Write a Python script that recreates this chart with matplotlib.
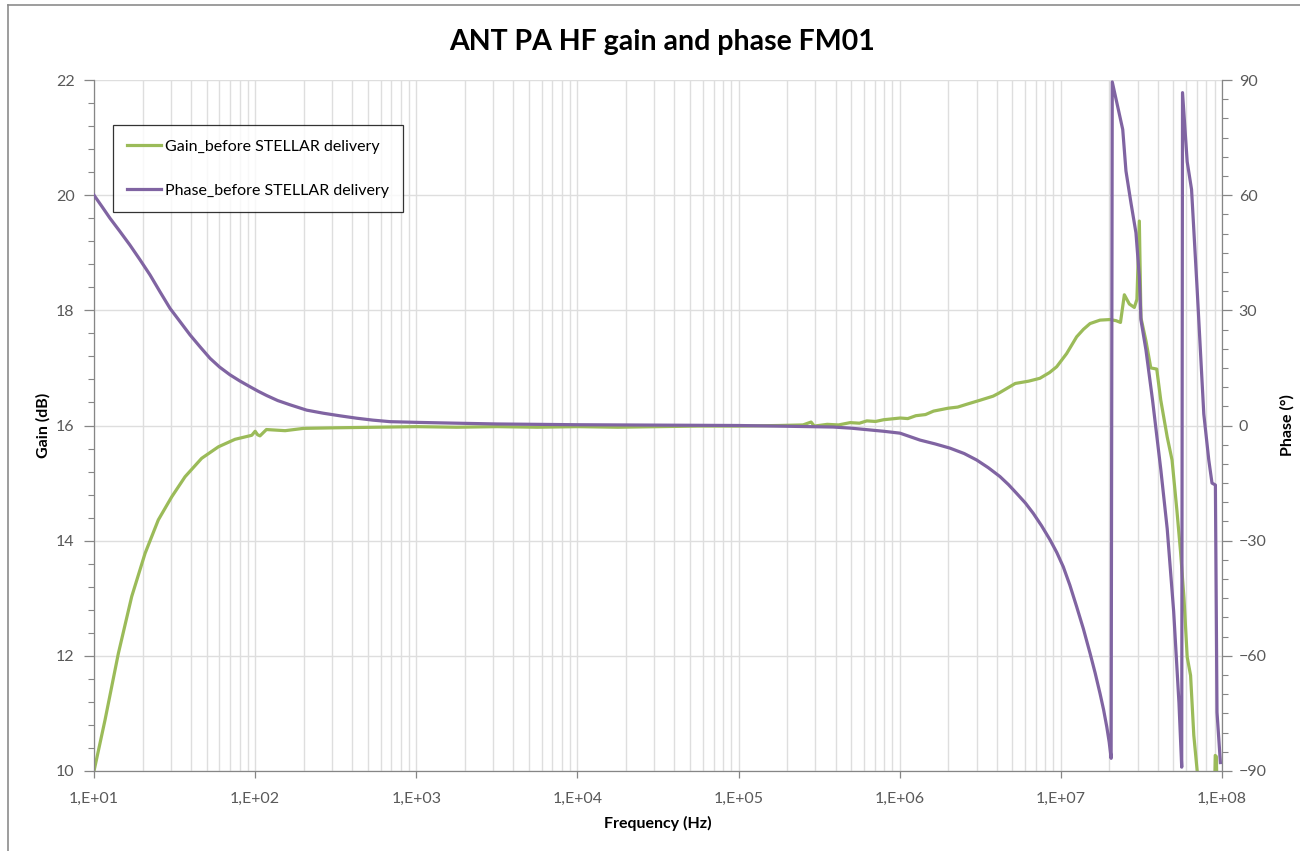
import numpy as np
import matplotlib
matplotlib.use("Agg")
import matplotlib.pyplot as plt
from matplotlib.ticker import MultipleLocator, FixedLocator, FixedFormatter, LogLocator, NullFormatter
from matplotlib.lines import Line2D

plt.rcParams['font.family'] = ['Lato', 'DejaVu Sans']

# ---------------- data (frequency as log10(Hz)) ----------------
gain_logf = [1.000, 1.068, 1.151, 1.234, 1.317, 1.399, 1.482, 1.565, 1.668, 1.772,
             1.875, 1.979, 2.000, 2.015, 2.030, 2.070, 2.186, 2.30, 2.50, 2.75,
             3.00, 3.25, 3.50, 3.75, 4.00, 4.25, 4.50, 4.75, 5.00, 5.25,
             5.40, 5.45, 5.47, 5.55, 5.62, 5.693, 5.75, 5.796, 5.85, 5.90,
             6.003, 6.05, 6.10, 6.16, 6.21, 6.30, 6.36, 6.417, 6.50, 6.58,
             6.614, 6.717, 6.80, 6.87, 6.93, 6.974, 7.036, 7.098, 7.14, 7.181,
             7.243, 7.305, 7.343, 7.37, 7.394, 7.425, 7.456, 7.472, 7.487,
             7.497, 7.528, 7.558, 7.595, 7.62, 7.66, 7.69, 7.72, 7.743, 7.764,
             7.784, 7.805, 7.825, 7.846, 7.87, 7.94, 7.955, 7.958, 7.965, 7.97]
gain_db = [10.00, 10.88, 12.04, 13.03, 13.78, 14.36, 14.76, 15.11, 15.43, 15.63,
           15.76, 15.83, 15.90, 15.84, 15.82, 15.93, 15.91, 15.95, 15.96, 15.97,
           15.98, 15.97, 15.98, 15.97, 15.98, 15.97, 15.98, 15.99, 15.99, 16.00,
           16.01, 16.06, 15.99, 16.02, 16.01, 16.05, 16.04, 16.08, 16.07, 16.10,
           16.13, 16.12, 16.17, 16.19, 16.25, 16.30, 16.32, 16.37, 16.44, 16.51,
           16.56, 16.73, 16.77, 16.82, 16.92, 17.02, 17.25, 17.54, 17.67, 17.77,
           17.83, 17.84, 17.82, 17.79, 18.27, 18.11, 18.05, 18.19, 19.55,
           17.87, 17.47, 17.00, 16.98, 16.44, 15.80, 15.40, 14.53, 13.80, 13.00,
           11.98, 11.66, 10.62, 10.00, 9.00, 8.50, 9.80, 10.27, 10.25, 9.50]

phase_logf = [1.0, 1.05, 1.099, 1.16, 1.223, 1.285, 1.348, 1.41, 1.472, 1.535,
              1.596, 1.66, 1.72, 1.78, 1.844, 1.905, 1.968, 2.02, 2.072, 2.14,
              2.216, 2.32, 2.423, 2.53, 2.63, 2.73, 2.837, 3.02, 3.25, 3.5,
              3.75, 4.0, 4.5, 5.0, 5.3, 5.587, 5.7, 5.8, 5.9, 6.002,
              6.126, 6.22, 6.312, 6.40, 6.478, 6.55, 6.622, 6.675, 6.726, 6.78,
              6.829, 6.88, 6.933, 6.975, 7.015, 7.056, 7.098, 7.14, 7.181, 7.213,
              7.243, 7.265, 7.285, 7.30, 7.312, 7.319, 7.384, 7.404, 7.435,
              7.466, 7.487, 7.497, 7.528, 7.569, 7.62, 7.66, 7.70, 7.733, 7.75,
              7.755, 7.784, 7.811, 7.846, 7.887, 7.918, 7.938, 7.959, 7.969, 7.99]
phase_deg = [60.0, 57.0, 54.0, 50.6, 47.0, 43.2, 39.2, 34.8, 30.5, 27.0,
             23.6, 20.4, 17.5, 15.2, 13.2, 11.6, 10.1, 8.9, 7.8, 6.5,
             5.4, 4.0, 3.2, 2.5, 1.9, 1.4, 1.0, 0.8, 0.6, 0.4,
             0.3, 0.2, 0.1, 0.0, -0.2, -0.4, -0.7, -1.1, -1.5, -2.0,
             -3.8, -4.8, -5.9, -7.3, -9.0, -11.0, -13.3, -15.4, -17.7, -20.2,
             -22.9, -26.1, -29.8, -33.1, -36.8, -41.6, -47.2, -53.0, -59.3, -64.5,
             -69.8, -74.0, -78.5, -82.5, -86.7, 89.5, 77.1, 66.3, 58.0,
             50.2, 38.8, 27.5, 19.7, 6.6, -11.4, -26.9, -48.4, -72.3, -89.0,
             86.7, 68.7, 61.5, 35.3, 3.0, -9.0, -15.0, -15.5, -74.7, -87.8]

x_ticks = [1e1, 1e2, 1e3, 1e4, 1e5, 1e6, 1e7, 1e8]
x_tick_labels = ["1,E+01", "1,E+02", "1,E+03", "1,E+04", "1,E+05", "1,E+06", "1,E+07", "1,E+08"]
gain_ticks = [10, 12, 14, 16, 18, 20, 22]
phase_ticks = [-90, -60, -30, 0, 30, 60, 90]

title = "ANT PA HF gain and phase FM01"
gain_label = "Gain_before STELLAR delivery"
phase_label = "Phase_before STELLAR delivery"

# ---------------- figure ----------------
W, H = 1300, 851
fig = plt.figure(figsize=(W / 100, H / 100), dpi=100)
fig.patch.set_facecolor('white')

ax = fig.add_axes([94 / W, 1 - 771 / H, (1222 - 94) / W, (771 - 80) / H])
ax2 = ax.twinx()

green = '#9BBB59'
purple = '#8064A2'
grid_c = '#DEDEDE'
axis_c = '#868686'
tick_c = '#595959'

gf = np.power(10.0, gain_logf)
pf = np.power(10.0, phase_logf)
l1, = ax.plot(gf, gain_db, color=green, lw=2.3, solid_joinstyle='round')
l2, = ax2.plot(pf, phase_deg, color=purple, lw=2.3, solid_joinstyle='round')

ax.set_xscale('log')
ax.set_xlim(1e1, 1e8)
ax.set_ylim(10, 22)
ax2.set_ylim(-90, 90)

ax.xaxis.set_major_locator(FixedLocator(x_ticks))
ax.xaxis.set_major_formatter(FixedFormatter(x_tick_labels))
ax.xaxis.set_minor_locator(LogLocator(base=10, subs=np.arange(2, 10)))
ax.xaxis.set_minor_formatter(NullFormatter())
ax.set_yticks(gain_ticks)
ax.yaxis.set_minor_locator(MultipleLocator(0.4))
ax2.set_yticks(phase_ticks)
ax2.yaxis.set_minor_locator(MultipleLocator(5))

ax.grid(which='major', axis='y', color=grid_c, lw=1.0)
ax.grid(which='both', axis='x', color=grid_c, lw=1.0)
ax.set_axisbelow(True)

for a in (ax, ax2):
    a.spines['top'].set_visible(False)
    for s in ('left', 'right', 'bottom'):
        a.spines[s].set_color(axis_c)
        a.spines[s].set_linewidth(0.9)
ax.spines['right'].set_visible(False)
ax2.spines['left'].set_visible(False)
ax2.spines['bottom'].set_visible(False)

ax.tick_params(axis='y', which='major', direction='out', length=7, width=0.9, color=axis_c,
               labelcolor=tick_c, labelsize=11.5, pad=7)
ax.tick_params(axis='y', which='minor', direction='out', length=4, width=0.8, color=axis_c)
ax.tick_params(axis='x', which='major', direction='out', length=5, width=0.9, color=axis_c,
               labelcolor=tick_c, labelsize=11.5, pad=10)
ax.tick_params(axis='x', which='minor', length=0)
ax2.tick_params(axis='y', which='major', direction='out', length=7, width=0.9, color=axis_c,
                labelcolor=tick_c, labelsize=11.5, pad=5)
ax2.tick_params(axis='y', which='minor', direction='out', length=4, width=0.8, color=axis_c)

ax.set_xlabel("Frequency (Hz)", fontsize=11.5, fontweight='bold', color='black', labelpad=7)
ax.set_ylabel("Gain (dB)", fontsize=11.5, fontweight='bold', color='black', labelpad=4)
ax2.set_ylabel("Phase (°)", fontsize=11.5, fontweight='bold', color='black', labelpad=10,
               rotation=90)

fig.text(662 / W, 1 - 42 / H, title, ha='center', va='center', fontsize=20.5,
         fontweight='bold', color='black')

leg = ax.legend([l1, l2], [gain_label, phase_label], loc='upper left',
                bbox_to_anchor=(113 / W, 1 - 125 / H), bbox_transform=fig.transFigure,
                fancybox=False, frameon=True, edgecolor='black', fontsize=11.5,
                handlelength=2.1, handletextpad=0.25, labelspacing=1.9,
                borderpad=0.9, borderaxespad=0)
leg.get_frame().set_linewidth(0.9)
leg.set_zorder(10)

# chart-area border
fig.add_artist(Line2D([8 / W, 8 / W], [0, 1 - 5 / H], transform=fig.transFigure,
                      color='#8c8c8c', lw=1.2))
fig.add_artist(Line2D([8 / W, 1], [1 - 5 / H, 1 - 5 / H], transform=fig.transFigure,
                      color='#8c8c8c', lw=1.2))

fig.savefig("out.png", dpi=100)
